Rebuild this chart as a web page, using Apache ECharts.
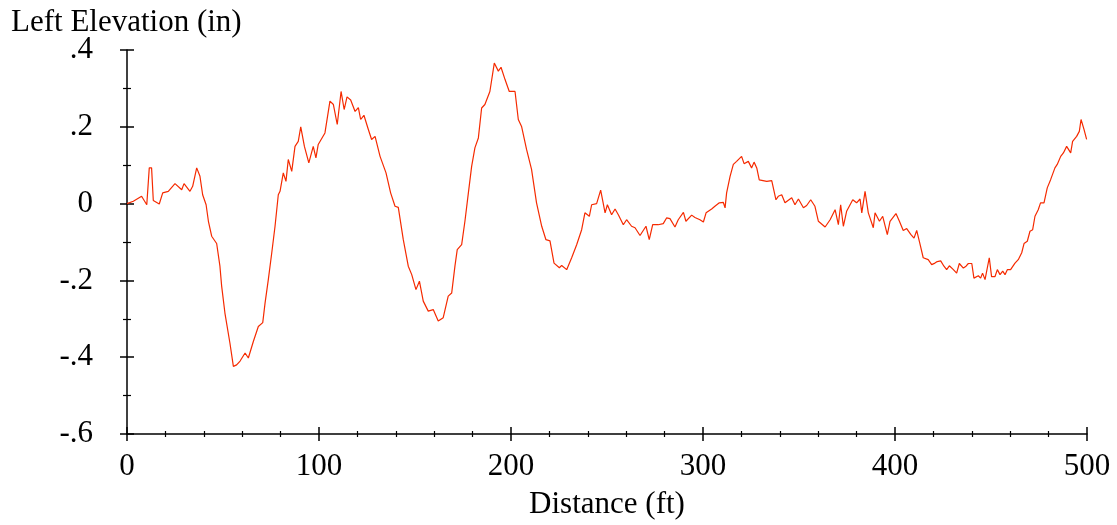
<!DOCTYPE html>
<html>
<head>
<meta charset="utf-8">
<title>Left Elevation</title>
<script src="https://cdn.jsdelivr.net/npm/echarts@6/dist/echarts.min.js"></script>
<style>
  html, body { margin: 0; padding: 0; background: #fff; }
  #chart { width: 1117px; height: 525px; }
</style>
</head>
<body>
<div id="chart"></div>
<script>
// distance (ft) and left elevation (in)
const distance = [
  0, 3.3, 7.6, 10.3, 11.6, 12.8, 13.7, 16.8, 18.6, 21.5, 25.0, 28.5, 29.7, 32.8, 34.2, 36.3, 38.0, 39.4,
  41.2, 42.4, 44.1, 46.7, 48.4, 49.3, 51.0, 53.6, 55.4, 57.1, 58.9, 61.5, 63.2, 65.8, 68.4, 70.7, 71.9,
  73.6, 75.4, 77.1, 78.8, 79.7, 81.4, 82.8, 84.0, 85.8, 87.5, 89.2, 90.5, 92.4, 94.7, 97.0, 98.4, 99.6,
  103.1, 105.7, 107.5, 109.5, 111.5, 113.1, 114.6, 116.5, 118.8, 120.5, 121.7, 123.4, 125.7, 127.4, 129.2,
  131.8, 134.9, 137.3, 139.6, 141.3, 143.9, 146.5, 148.3, 150.5, 152.3, 154.3, 156.9, 159.5, 162.1,
  164.7, 167.3, 169.1, 170.8, 172.0, 174.3, 176.0, 177.8, 179.5, 181.2, 183.0, 184.7, 186.4, 189.0,
  191.3, 193.4, 194.8, 196.9, 199.1, 202.1, 203.8, 205.5, 208.1, 210.7, 213.3, 216.0, 218.2, 220.3,
  222.4, 225.2, 226.4, 229.0, 231.6, 234.2, 236.8, 238.5, 240.8, 242.0, 244.6, 246.7, 249.0, 250.2,
  252.4, 254.2, 255.9, 258.5, 260.2, 262.8, 264.6, 267.2, 270.3, 272.0, 273.8, 276.7, 279.3, 281.1,
  282.8, 285.4, 287.1, 289.8, 291.1, 294.1, 295.8, 298.4, 300.2, 301.6, 304.5, 306.2, 308.5, 310.6,
  311.5, 312.3, 314.1, 315.8, 317.5, 320.1, 321.4, 323.6, 325.3, 326.6, 328.0, 329.3, 333.2, 335.8,
  338.0, 339.2, 341.0, 342.7, 346.2, 347.9, 349.7, 352.3, 354.0, 356.1, 358.3, 360.1, 363.6, 366.2,
  368.8, 370.5, 371.7, 373.1, 374.8, 378.0, 380.0, 381.8, 382.7, 384.4, 386.1, 388.7, 389.6, 391.9,
  393.6, 396.0, 397.4, 400.5, 402.3, 404.3, 406.1, 408.2, 409.9, 411.3, 413.0, 414.7, 415.6, 417.3,
  419.1, 420.8, 422.0, 423.8, 425.5, 426.9, 428.3, 430.4, 432.1, 433.5, 435.6, 437.0, 438.2, 440.0,
  441.1, 443.4, 444.6, 445.6, 446.9, 449.1, 450.3, 452.1, 453.3, 454.7, 456.1, 457.3, 458.5, 460.2,
  462.5, 464.2, 466.0, 467.2, 468.9, 470.3, 471.7, 472.9, 474.6, 475.8, 477.6, 479.3, 481.1, 483.3,
  484.5, 486.3, 487.7, 489.4, 491.5, 492.5, 494.6, 496.0, 496.9, 498.4, 499.8
];
const elevation = [
  0.000, 0.006, 0.019, -0.003, 0.093, 0.093, 0.008, -0.001, 0.028, 0.032, 0.052, 0.036, 0.052, 0.032, 0.045, 0.093, 0.071, 0.023,
  -0.003, -0.046, -0.085, -0.104, -0.163, -0.215, -0.285, -0.363, -0.424, -0.420, -0.410, -0.389, -0.402, -0.359, -0.320, -0.310, -0.259,
  -0.198, -0.128, -0.059, 0.023, 0.032, 0.080, 0.058, 0.115, 0.084, 0.149, 0.162, 0.200, 0.149, 0.106, 0.149, 0.119, 0.154,
  0.184, 0.267, 0.258, 0.206, 0.292, 0.245, 0.278, 0.270, 0.240, 0.250, 0.219, 0.230, 0.193, 0.167, 0.175,
  0.123, 0.080, 0.028, -0.007, -0.010, -0.094, -0.163, -0.185, -0.224, -0.202, -0.254, -0.280, -0.276, -0.306,
  -0.297, -0.241, -0.233, -0.163, -0.120, -0.107, -0.046, 0.028, 0.097, 0.145, 0.171, 0.249, 0.258, 0.292,
  0.366, 0.345, 0.355, 0.323, 0.292, 0.292, 0.219, 0.201, 0.141, 0.089, 0.002, -0.059, -0.094, -0.097,
  -0.155, -0.167, -0.161, -0.172, -0.141, -0.107, -0.068, -0.024, -0.033, -0.003, 0.000, 0.035, -0.024, -0.003,
  -0.029, -0.014, -0.029, -0.055, -0.042, -0.059, -0.063, -0.083, -0.059, -0.094, -0.055, -0.055, -0.052, -0.037,
  -0.039, -0.061, -0.042, -0.023, -0.046, -0.030, -0.036, -0.042, -0.048, -0.024, -0.014, -0.007, 0.002, 0.003,
  -0.011, 0.028, 0.071, 0.102, 0.110, 0.123, 0.104, 0.110, 0.093, 0.108, 0.093, 0.062, 0.058, 0.060,
  0.010, 0.019, 0.023, 0.002, 0.015, -0.003, 0.012, -0.011, -0.005, 0.010, -0.007, -0.046, -0.061, -0.042,
  -0.016, -0.055, -0.003, -0.059, -0.020, 0.010, 0.002, 0.012, -0.024, 0.032, -0.024, -0.063, -0.024, -0.046,
  -0.033, -0.081, -0.046, -0.026, -0.046, -0.070, -0.065, -0.080, -0.090, -0.070, -0.105, -0.141, -0.136, -0.146,
  -0.159, -0.155, -0.151, -0.149, -0.163, -0.172, -0.162, -0.172, -0.181, -0.156, -0.168, -0.163, -0.156, -0.156,
  -0.194, -0.188, -0.194, -0.181, -0.198, -0.141, -0.190, -0.190, -0.172, -0.185, -0.176, -0.185, -0.172, -0.172,
  -0.155, -0.146, -0.128, -0.104, -0.098, -0.072, -0.068, -0.033, -0.016, 0.002, 0.002, 0.041, 0.063, 0.093,
  0.102, 0.123, 0.132, 0.149, 0.132, 0.162, 0.175, 0.188, 0.219, 0.194, 0.167
];

const font = 'Liberation Serif';
const points = distance.map((d, i) => [d, elevation[i]]);

function yLabel(v) {
  if (Math.abs(v) < 1e-9) return '0';
  return v.toFixed(1).replace('0.', '.');
}

let chart = echarts.init(document.getElementById('chart'));

// each axis is doubled: one copy draws the outer ticks + labels, the other the inner ticks,
// so the ticks cross the axis line like in the original
chart.setOption({
  animation: false,
  backgroundColor: '#ffffff',
  title: {
    text: 'Left Elevation (in)',
    left: 6,
    top: 2,
    textStyle: { fontFamily: font, fontSize: 31, fontWeight: 'normal', color: '#000' }
  },
  grid: { left: 127, right: 30, top: 50, bottom: 91 },
  xAxis: [{
    type: 'value',
    min: 0,
    max: 500,
    interval: 100,
    position: 'bottom',
    name: 'Distance (ft)',
    nameLocation: 'middle',
    nameGap: 55,
    nameTextStyle: { fontFamily: font, fontSize: 31, color: '#000' },
    axisLine: { onZero: false, lineStyle: { color: '#000', width: 1.5 } },
    axisTick: { length: 7, lineStyle: { color: '#000', width: 1.5 } },
    minorTick: { show: true, splitNumber: 5, length: 3, lineStyle: { color: '#000', width: 1.2 } },
    axisLabel: { fontFamily: font, fontSize: 31, color: '#000', margin: 17 },
    splitLine: { show: false }
  }, {
    type: 'value',
    min: 0,
    max: 500,
    interval: 100,
    position: 'bottom',
    axisLine: { show: false, onZero: false },
    axisTick: { show: true, inside: true, length: 7, lineStyle: { color: '#000', width: 1.5 } },
    minorTick: { show: true, splitNumber: 5, length: 3, lineStyle: { color: '#000', width: 1.2 } },
    axisLabel: { show: false },
    splitLine: { show: false }
  }],
  yAxis: [{
    type: 'value',
    min: -0.6,
    max: 0.4,
    interval: 0.2,
    position: 'left',
    axisLine: { show: true, onZero: false, lineStyle: { color: '#000', width: 1.5 } },
    axisTick: { show: true, length: 7, lineStyle: { color: '#000', width: 1.5 } },
    minorTick: { show: true, splitNumber: 2, length: 4, lineStyle: { color: '#000', width: 1.2 } },
    axisLabel: { fontFamily: font, fontSize: 31, color: '#000', margin: 34, formatter: yLabel },
    splitLine: { show: false }
  }, {
    type: 'value',
    min: -0.6,
    max: 0.4,
    interval: 0.2,
    position: 'left',
    offset: 0,
    axisLine: { show: false, onZero: false },
    axisTick: { show: true, inside: true, length: 7, lineStyle: { color: '#000', width: 1.5 } },
    minorTick: { show: true, splitNumber: 2, length: 4, lineStyle: { color: '#000', width: 1.2 } },
    axisLabel: { show: false },
    splitLine: { show: false }
  }],
  series: [{
    name: 'Left Elevation',
    type: 'line',
    data: points,
    showSymbol: false,
    symbol: 'none',
    lineStyle: { color: '#f52a00', width: 1.2 },
    z: 3
  }]
});
</script>
</body>
</html>
